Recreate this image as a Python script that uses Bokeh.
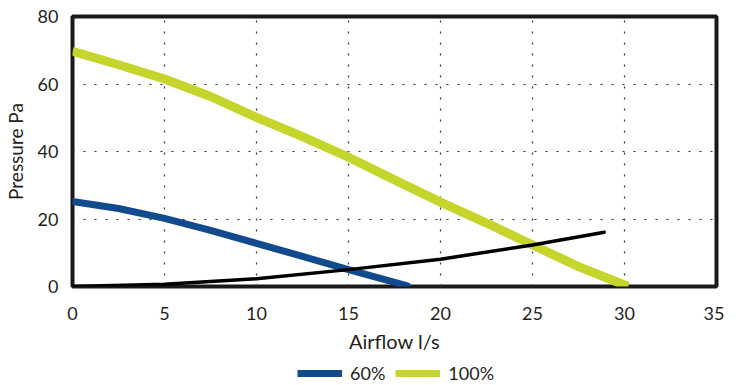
from bokeh.plotting import figure
from bokeh.layouts import column
from bokeh.models import Legend, LegendItem, Range1d, FixedTicker
from bokeh.embed import file_html
from bokeh.resources import INLINE

# Data
x100 = [0, 2.5, 5, 7.5, 10, 12.5, 15, 17.5, 20, 22.5, 25, 27.5, 30.2]
y100 = [69.7, 65.7, 61.5, 56.3, 50.1, 44.4, 38.3, 31.6, 25.0, 18.8, 12.3, 5.9, 0.0]

x60 = [0, 2.5, 5, 7.5, 10, 12.5, 15, 18.2]
y60 = [25.2, 23.1, 20.2, 16.6, 12.8, 8.9, 5.0, 0.2]

xsys = [0, 5, 10, 15, 20, 25, 28.9]
ysys = [0.0, 0.7, 2.3, 5.0, 8.1, 12.3, 16.1]

xticks = [0, 5, 10, 15, 20, 25, 30, 35]
yticks = [0, 20, 40, 60, 80]

series_labels = ["60%", "100%"]

FONT = "Lato"
TXT = "#231f20"
BLUE = "#114b8e"
YELLOW = "#c6d52b"

p = figure(width=724, height=356, output_backend="svg", toolbar_location=None,
           x_range=Range1d(0, 35), y_range=Range1d(0, 80),
           min_border_left=68, min_border_right=8, min_border_top=16, min_border_bottom=70)

p.outline_line_color = "#1a1a1a"
p.outline_line_width = 4

for ax in (p.xaxis, p.yaxis):
    ax.axis_line_color = None
    ax.major_tick_line_color = None
    ax.minor_tick_line_color = None
    ax.major_tick_out = 0
    ax.major_tick_in = 0
    ax.major_label_text_font = FONT
    ax.major_label_text_font_size = "18px"
    ax.major_label_text_color = TXT
    ax.axis_label_text_font = FONT
    ax.axis_label_text_font_style = "normal"
    ax.axis_label_text_color = TXT

p.xaxis.ticker = FixedTicker(ticks=xticks)
p.yaxis.ticker = FixedTicker(ticks=yticks)
p.xaxis.major_label_standoff = 20
p.yaxis.major_label_standoff = 14
p.xaxis.axis_label = "Airflow l/s"
p.yaxis.axis_label = "Pressure Pa"
p.xaxis.axis_label_text_font_size = "20px"
p.yaxis.axis_label_text_font_size = "19px"
p.xaxis.axis_label_standoff = 6
p.yaxis.axis_label_standoff = 8

for g in (p.xgrid, p.ygrid):
    g.grid_line_color = "#333333"
    g.grid_line_width = 1.2
    g.grid_line_dash = "2 9"

p.line(x100, y100, line_color=YELLOW, line_width=9)
p.line(x60, y60, line_color=BLUE, line_width=7, line_cap="round")
p.line(xsys, ysys, line_color="black", line_width=3.5, line_cap="round")

# Legend strip below the chart
lf = figure(width=724, height=28, output_backend="svg", toolbar_location=None,
            x_axis_type=None, y_axis_type=None,
            x_range=Range1d(0, 1), y_range=Range1d(0, 1),
            min_border=0, min_border_left=0, min_border_right=0,
            min_border_top=0, min_border_bottom=0)
lf.grid.visible = False
lf.outline_line_color = None
l60 = lf.line([-5, -4], [-5, -4], line_color=BLUE, line_width=7)
l100 = lf.line([-5, -4], [-5, -4], line_color=YELLOW, line_width=7)

legend = Legend(items=[LegendItem(label=series_labels[0], renderers=[l60]),
                       LegendItem(label=series_labels[1], renderers=[l100])],
                orientation="horizontal", location=(225, 0),
                background_fill_alpha=0, border_line_color=None,
                padding=0, margin=0, spacing=10, label_standoff=8,
                glyph_width=45, glyph_height=18, label_height=18,
                label_text_font=FONT, label_text_font_size="18px",
                label_text_color=TXT)
lf.add_layout(legend, "center")

layout = column(p, lf, spacing=0)
open("out.html", "w").write(file_html(layout, INLINE))
